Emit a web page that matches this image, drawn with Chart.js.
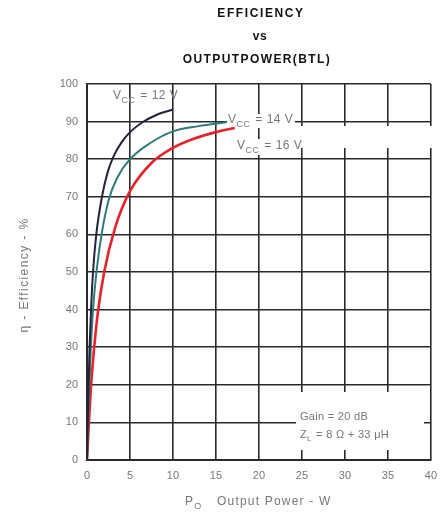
<!DOCTYPE html>
<html>
<head>
<meta charset="utf-8">
<script src="https://cdn.jsdelivr.net/npm/chart.js@4"></script>
<style>
  html, body { margin: 0; padding: 0; background: #fff; }
</style>
</head>
<body>
<canvas id="grafico" width="446" height="517"></canvas>
<script>
// Curvas de eficiência (BTL) para cada tensão de alimentação
const potencia12 = [0, 0.08, 0.18, 0.3, 0.47, 0.7, 1.08, 1.74, 2.4, 3.1, 4, 5, 6.5, 8, 10];
const eficiencia12 = [0, 10, 20, 30, 40, 50, 60, 70, 76.5, 80.8, 84.4, 87.2, 89.9, 91.7, 93.2];

const potencia14 = [0, 0.12, 0.27, 0.45, 0.7, 1.1, 1.7, 2.5, 3.5, 5, 7.5, 10, 13, 16.2];
const eficiencia14 = [0, 10, 20, 30, 40, 50, 60, 69, 75, 80, 84.5, 87.4, 88.8, 89.8];

const potencia16 = [0, 0.2, 0.45, 0.8, 1.25, 2, 3.3, 5, 7.5, 10, 12.5, 15, 17.2];
const eficiencia16 = [0, 9, 19, 29, 39, 50, 62, 71.5, 79, 83, 85.5, 87.2, 88.3];

const ticksX = [0, 5, 10, 15, 20, 25, 30, 35, 40];
const ticksY = [0, 10, 20, 30, 40, 50, 60, 70, 80, 90, 100];

const fonte = '"Liberation Sans", Arial, sans-serif';

function pontos(xs, ys) {
    return xs.map((x, i) => ({ x: x, y: ys[i] }));
}

// Texto com partes em subscrito (V_CC, Z_L, P_O)
function textoComSub(ctx, partes, x, y, tam) {
    let cx = x;
    partes.forEach(p => {
        ctx.font = (p.sub ? Math.round(tam * 0.75) : tam) + 'px ' + fonte;
        ctx.fillText(p.t, cx, p.sub ? y + tam * 0.35 : y);
        cx += ctx.measureText(p.t).width + (p.sub ? 1 : 0);
    });
    return cx - x;
}

const anotacoes = {
    id: 'anotacoes',
    beforeDatasetsDraw(chart) {
        const ctx = chart.ctx;
        ctx.save();

        // caixas brancas por trás das legendas
        ctx.fillStyle = '#fff';
        ctx.fillRect(298, 126, 134, 22);
        ctx.fillRect(296, 392, 128, 58);

        ctx.fillStyle = '#777';
        ctx.textBaseline = 'middle';
        ctx.letterSpacing = '0.5px';
        textoComSub(ctx, [{ t: 'V' }, { t: 'CC', sub: true }, { t: ' = 12 V' }], 113, 96, 12);
        ctx.fillStyle = '#fff';
        ctx.fillRect(227, 114, 68, 14);
        ctx.fillStyle = '#777';
        textoComSub(ctx, [{ t: 'V' }, { t: 'CC', sub: true }, { t: ' = 14 V' }], 228, 120, 12);
        ctx.fillStyle = '#fff';
        ctx.fillRect(236, 139, 64, 16);
        ctx.fillStyle = '#777';
        textoComSub(ctx, [{ t: 'V' }, { t: 'CC', sub: true }, { t: ' = 16 V' }], 237, 146, 12);

        ctx.letterSpacing = '0.3px';
        textoComSub(ctx, [{ t: 'Gain = 20 dB' }], 300, 417, 11);
        textoComSub(ctx, [{ t: 'Z' }, { t: 'L', sub: true }, { t: ' = 8 Ω + 33 μH' }], 300, 435, 11);
        ctx.restore();
    },
    afterDraw(chart) {
        const ctx = chart.ctx;
        ctx.save();

        // título em três linhas
        ctx.fillStyle = '#111';
        ctx.textAlign = 'center';
        ctx.textBaseline = 'middle';
        ctx.font = 'bold 12px ' + fonte;
        ctx.letterSpacing = '1.6px';
        ctx.fillText('EFFICIENCY', 261, 14);
        ctx.letterSpacing = '0.5px';
        ctx.fillText('vs', 260, 37);
        ctx.letterSpacing = '1.4px';
        ctx.fillText('OUTPUTPOWER(BTL)', 257, 60);

        // título do eixo Y
        ctx.fillStyle = '#777';
        ctx.font = '12px ' + fonte;
        ctx.letterSpacing = '1.4px';
        ctx.translate(25, 275);
        ctx.rotate(-Math.PI / 2);
        ctx.fillText('η - Efficiency - %', 0, 0);
        ctx.setTransform(1, 0, 0, 1, 0, 0);

        // título do eixo X
        ctx.textAlign = 'left';
        ctx.letterSpacing = '1.2px';
        textoComSub(ctx, [{ t: 'P' }, { t: 'O', sub: true }, { t: '   Output Power - W' }], 185, 502, 12);
        ctx.restore();
    }
};

new Chart(document.getElementById('grafico'), {
    type: 'scatter',
    data: {
        datasets: [
            { label: 'VCC = 12 V', data: pontos(potencia12, eficiencia12), borderColor: '#23233c', borderWidth: 2 },
            { label: 'VCC = 14 V', data: pontos(potencia14, eficiencia14), borderColor: '#2e7c7a', borderWidth: 2 },
            { label: 'VCC = 16 V', data: pontos(potencia16, eficiencia16), borderColor: '#e8222a', borderWidth: 2.6 }
        ].map(d => Object.assign(d, {
            showLine: true,
            pointRadius: 0,
            cubicInterpolationMode: 'monotone',
            fill: false
        }))
    },
    options: {
        responsive: false,
        animation: false,
        layout: { padding: { top: 84, right: 14, left: 0, bottom: 0 } },
        plugins: { legend: { display: false }, tooltip: { enabled: false } },
        scales: {
            x: {
                type: 'linear',
                min: 0,
                max: 40,
                afterFit: s => { s.height = 57; },
                afterBuildTicks: s => { s.ticks = ticksX.map(v => ({ value: v })); },
                ticks: { color: '#777', font: { size: 11, family: fonte }, padding: 9 },
                grid: { color: '#2a2a2a', lineWidth: 1.6, drawTicks: false },
                border: { color: '#2a2a2a', width: 2 }
            },
            y: {
                min: 0,
                max: 100,
                afterFit: s => { s.width = 87; },
                afterBuildTicks: s => { s.ticks = ticksY.map(v => ({ value: v })); },
                ticks: { color: '#777', font: { size: 11, family: fonte }, padding: 9 },
                grid: { color: '#2a2a2a', lineWidth: 1.6, drawTicks: false },
                border: { color: '#2a2a2a', width: 2 }
            }
        }
    },
    plugins: [anotacoes]
});
</script>
</body>
</html>
